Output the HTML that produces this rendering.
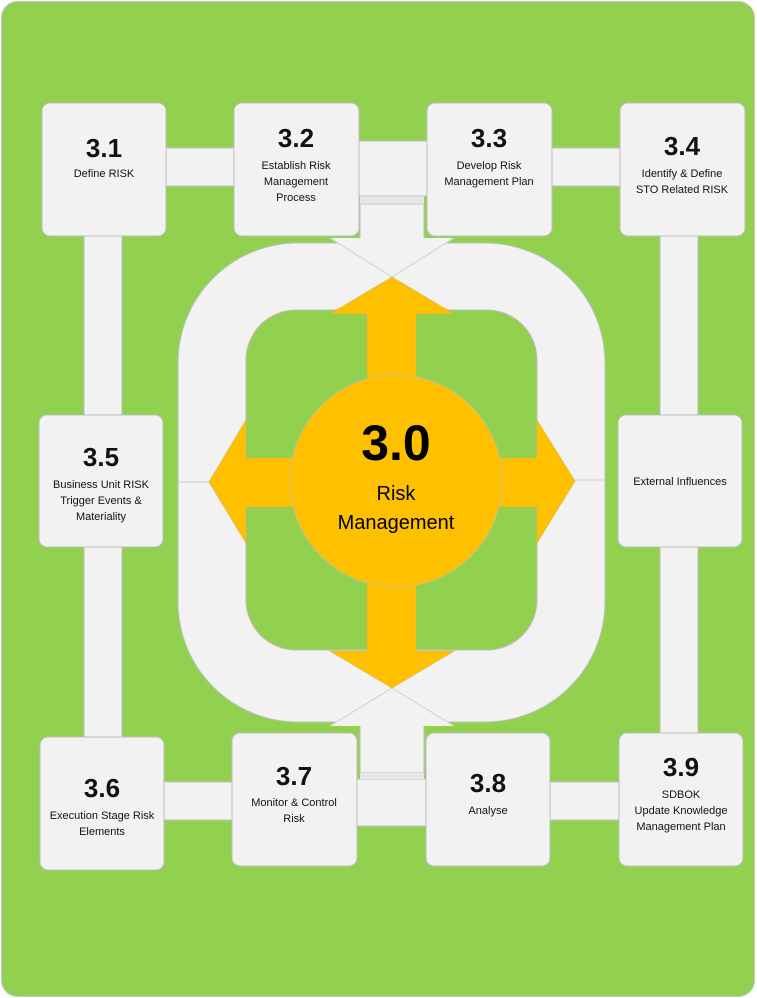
<!DOCTYPE html>
<html><head><meta charset="utf-8"><style>
html,body{margin:0;padding:0;background:#fff;}
svg{display:block;font-family:"Liberation Sans",sans-serif;}
</style></head><body>
<svg width="757" height="998" viewBox="0 0 757 998" xmlns="http://www.w3.org/2000/svg">
<rect x="1.5" y="1.5" width="753" height="995" rx="16" fill="#92d050" stroke="#c9c9c9" stroke-width="1"/>
<g fill="#f2f2f2" stroke="#bfbfbf" stroke-width="1">
<rect x="160" y="148" width="80" height="38"/>
<rect x="546" y="148" width="80" height="38"/>
<rect x="84" y="230" width="38" height="190"/>
<rect x="84" y="540" width="38" height="202"/>
<rect x="660" y="230" width="38" height="190"/>
<rect x="660" y="540" width="38" height="198"/>
<rect x="158" y="782" width="80" height="38"/>
<rect x="544" y="782" width="80" height="38"/>
<rect x="355" y="141" width="76" height="55"/>
<rect x="360" y="204" width="64" height="41"/>
<rect x="360" y="716" width="64" height="58"/>
<rect x="352" y="779" width="80" height="47"/>
<path fill-rule="evenodd" d="M298 243 H485 A120 120 0 0 1 605 363 V602 A120 120 0 0 1 485 722 H298 A120 120 0 0 1 178 602 V363 A120 120 0 0 1 298 243 Z M296 310 H487 A50 50 0 0 1 537 360 V600 A50 50 0 0 1 487 650 H296 A50 50 0 0 1 246 600 V360 A50 50 0 0 1 296 310 Z"/>
</g>
<g fill="none" stroke="#cfcfcf" stroke-width="1">
<rect x="360" y="196" width="64" height="8" fill="#f2f2f2" stroke="none"/>
<line x1="360" y1="197" x2="424" y2="197"/><line x1="360" y1="200" x2="424" y2="200"/><line x1="360" y1="203" x2="424" y2="203"/>
<rect x="360" y="773" width="64" height="7" fill="#f2f2f2" stroke="none"/>
<line x1="360" y1="773" x2="424" y2="773"/><line x1="360" y1="776" x2="424" y2="776"/><line x1="360" y1="779" x2="424" y2="779"/>
<polygon points="330,238 454,238 392,277" fill="#f2f2f2" stroke="none"/>
<polygon points="330,726 454,726 392,688" fill="#f2f2f2" stroke="none"/>
<line x1="330" y1="238" x2="392" y2="277"/><line x1="454" y1="238" x2="392" y2="277"/>
<line x1="330" y1="726" x2="392" y2="688"/><line x1="454" y1="726" x2="392" y2="688"/>
<line x1="178" y1="482" x2="209" y2="482"/><line x1="575" y1="480" x2="605" y2="480"/>
</g>
<g fill="#ffc000" stroke="#d9b24a" stroke-width="0.6">
<polygon points="392,277 454,314 416,314 416,400 367,400 367,314 330,314"/>
<polygon points="392,688 454,651 416,651 416,560 367,560 367,651 330,651"/>
<polygon points="209,482 246,420 246,458 320,458 320,507 246,507 246,543"/>
<polygon points="575,481 537,420 537,458 470,458 470,507 537,507 537,543"/>
</g>
<circle cx="396" cy="481" r="106" fill="#ffc000" stroke="#d0c090" stroke-width="1"/>
<text x="396" y="460" text-anchor="middle" font-size="50" font-weight="bold">3.0</text>
<text x="396" y="500" text-anchor="middle" font-size="20">Risk</text>
<text x="396" y="529" text-anchor="middle" font-size="20">Management</text>
<g fill="#f2f2f2" stroke="#bfbfbf" stroke-width="1">
<rect x="42" y="103" width="124" height="133" rx="8"/>
<rect x="234" y="103" width="125" height="133" rx="8"/>
<rect x="427" y="103" width="125" height="133" rx="8"/>
<rect x="620" y="103" width="125" height="133" rx="8"/>
<rect x="39" y="415" width="124" height="132" rx="8"/>
<rect x="618" y="415" width="124" height="132" rx="8"/>
<rect x="40" y="737" width="124" height="133" rx="8"/>
<rect x="232" y="733" width="125" height="133" rx="8"/>
<rect x="426" y="733" width="124" height="133" rx="8"/>
<rect x="619" y="733" width="124" height="133" rx="8"/>
</g>
<g text-anchor="middle" font-size="11" fill="#111">
<text x="104" y="157" font-size="26" font-weight="bold">3.1</text>
<text x="104" y="177">Define RISK</text>
<text x="296" y="147" font-size="26" font-weight="bold">3.2</text>
<text x="296" y="169">Establish Risk</text><text x="296" y="185">Management</text><text x="296" y="201">Process</text>
<text x="489" y="147" font-size="26" font-weight="bold">3.3</text>
<text x="489" y="169">Develop Risk</text><text x="489" y="185">Management Plan</text>
<text x="682" y="155" font-size="26" font-weight="bold">3.4</text>
<text x="682" y="177">Identify &amp; Define</text><text x="682" y="193">STO Related RISK</text>
<text x="101" y="466" font-size="26" font-weight="bold">3.5</text>
<text x="101" y="488">Business Unit RISK</text><text x="101" y="504">Trigger Events &amp;</text><text x="101" y="520">Materiality</text>
<text x="680" y="485">External Influences</text>
<text x="102" y="797" font-size="26" font-weight="bold">3.6</text>
<text x="102" y="819">Execution Stage Risk</text><text x="102" y="835">Elements</text>
<text x="294" y="785" font-size="26" font-weight="bold">3.7</text>
<text x="294" y="806">Monitor &amp; Control</text><text x="294" y="822">Risk</text>
<text x="488" y="792" font-size="26" font-weight="bold">3.8</text>
<text x="488" y="814">Analyse</text>
<text x="681" y="776" font-size="26" font-weight="bold">3.9</text>
<text x="681" y="798">SDBOK</text><text x="681" y="814">Update Knowledge</text><text x="681" y="830">Management Plan</text>
</g>
</svg>
</body></html>
